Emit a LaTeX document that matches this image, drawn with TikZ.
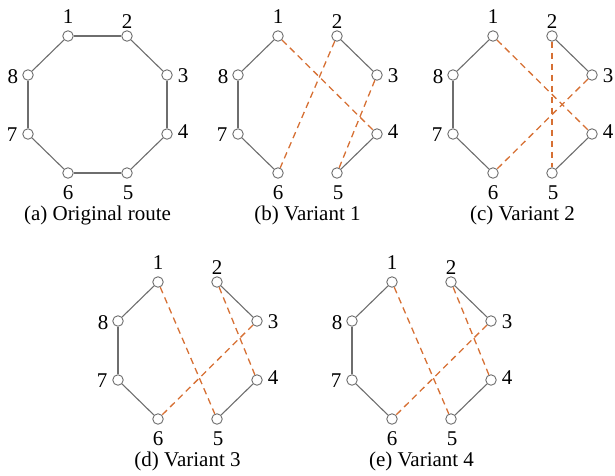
\documentclass[tikz,border=0pt]{standalone}
\usepackage{fontspec}
\setmainfont{Liberation Serif}
\definecolor{edgegray}{RGB}{110,110,110}
\definecolor{swaporange}{RGB}{214,112,52}
\tikzset{
  vtx/.style={circle,draw=edgegray,fill=white,line width=0.9pt,minimum size=10.5pt,inner sep=0pt},
  lbl/.style={inner sep=0pt,font=\rmfamily\fontsize{21}{25}\selectfont},
  captxt/.style={inner sep=0pt,font=\rmfamily\fontsize{21}{25}\selectfont},
  keep/.style={draw=edgegray,line width=1.1pt},
  swap/.style={draw=swaporange,line width=1.3pt,dash pattern=on 6.5pt off 4.5pt}
}
\newcommand\drawpanel[4]{%
  \begin{scope}[shift={(#2,#3)}]
    \node[vtx] (#1-1) at (0,0) {};
    \node[vtx] (#1-2) at (59,0) {};
    \node[vtx] (#1-3) at (99,39) {};
    \node[vtx] (#1-4) at (99,98) {};
    \node[vtx] (#1-5) at (59,137) {};
    \node[vtx] (#1-6) at (0,137) {};
    \node[vtx] (#1-7) at (-40,98) {};
    \node[vtx] (#1-8) at (-40,39) {};
    \node[lbl] (#1-l1) at ([shift={(0,-19)}]#1-1) {1};
    \node[lbl] (#1-l2) at ([shift={(0,-14)}]#1-2) {2};
    \node[lbl] (#1-l3) at ([shift={(16,1)}]#1-3) {3};
    \node[lbl] (#1-l4) at ([shift={(16,-2)}]#1-4) {4};
    \node[lbl] (#1-l5) at ([shift={(1,19.5)}]#1-5) {5};
    \node[lbl] (#1-l6) at ([shift={(0,20)}]#1-6) {6};
    \node[lbl] (#1-l7) at ([shift={(-16,1)}]#1-7) {7};
    \node[lbl] (#1-l8) at ([shift={(-15,2)}]#1-8) {8};
    \node[captxt] (#1-cap) at (29.5,179) {#4};
  \end{scope}}
\begin{document}
\begin{tikzpicture}[x=1pt,y=-1pt]
  \useasboundingbox (0,0) rectangle (615,475);
  % (a)
  \drawpanel{a}{68}{36}{(a) Original route}
  \draw[keep] (a-1) -- (a-2);
  \draw[keep] (a-2) -- (a-3);
  \draw[keep] (a-3) -- (a-4);
  \draw[keep] (a-4) -- (a-5);
  \draw[keep] (a-5) -- (a-6);
  \draw[keep] (a-6) -- (a-7);
  \draw[keep] (a-7) -- (a-8);
  \draw[keep] (a-8) -- (a-1);
  % (b)
  \drawpanel{b}{278}{36}{(b) Variant 1}
  \draw[keep] (b-1) -- (b-8);
  \draw[keep] (b-8) -- (b-7);
  \draw[keep] (b-7) -- (b-6);
  \draw[keep] (b-2) -- (b-3);
  \draw[keep] (b-4) -- (b-5);
  \draw[swap] (b-1) -- (b-4);
  \draw[swap] (b-2) -- (b-6);
  \draw[swap] (b-3) -- (b-5);
  % (c)
  \drawpanel{c}{493}{36}{(c) Variant 2}
  \draw[keep] (c-1) -- (c-8);
  \draw[keep] (c-8) -- (c-7);
  \draw[keep] (c-7) -- (c-6);
  \draw[keep] (c-2) -- (c-3);
  \draw[keep] (c-4) -- (c-5);
  \draw[swap] (c-1) -- (c-4);
  \draw[swap] (c-2) -- (c-5);
  \draw[swap] (c-3) -- (c-6);
  % (d)
  \drawpanel{d}{158}{282}{(d) Variant 3}
  \draw[keep] (d-1) -- (d-8);
  \draw[keep] (d-8) -- (d-7);
  \draw[keep] (d-7) -- (d-6);
  \draw[keep] (d-2) -- (d-3);
  \draw[keep] (d-4) -- (d-5);
  \draw[swap] (d-1) -- (d-5);
  \draw[swap] (d-2) -- (d-4);
  \draw[swap] (d-3) -- (d-6);
  % (e)
  \drawpanel{e}{392}{282}{(e) Variant 4}
  \draw[keep] (e-1) -- (e-8);
  \draw[keep] (e-8) -- (e-7);
  \draw[keep] (e-7) -- (e-6);
  \draw[keep] (e-2) -- (e-3);
  \draw[keep] (e-4) -- (e-5);
  \draw[swap] (e-1) -- (e-5);
  \draw[swap] (e-2) -- (e-4);
  \draw[swap] (e-3) -- (e-6);
\end{tikzpicture}
\end{document}
